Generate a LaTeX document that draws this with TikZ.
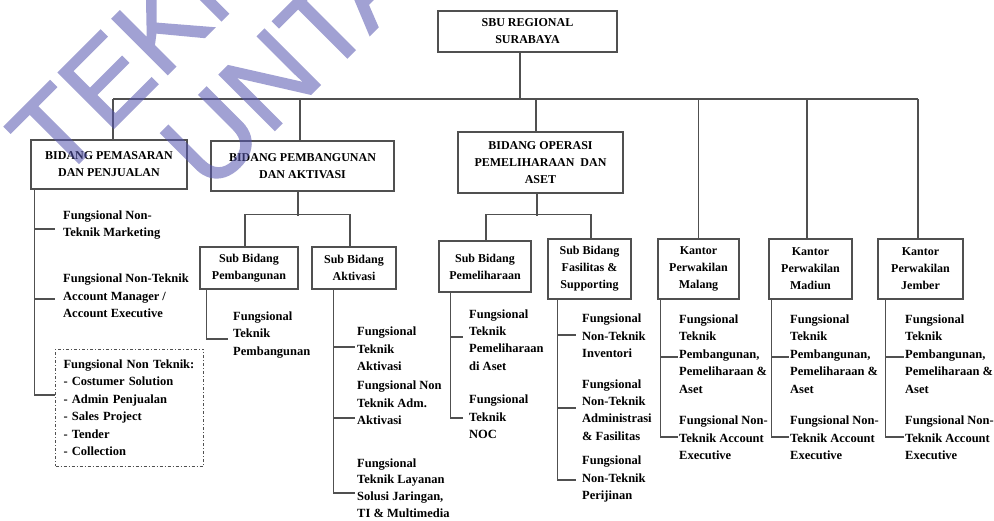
\documentclass[tikz,border=0pt]{standalone}
\usepackage{fontspec}
\usepackage{graphicx}
\setmainfont{Liberation Serif}
\newfontfamily\wmfont[FakeBold=1.5]{Liberation Sans}
\usetikzlibrary{calc}
\definecolor{ln}{RGB}{80,80,80}
\definecolor{wmc}{RGB}{85,85,175}
\tikzset{
  box/.style={draw=ln, line width=1.2pt, align=center, inner sep=0pt, text=black,
    font=\bfseries\fontsize{12}{17}\selectfont},
  leaf/.style={anchor=west, align=left, inner ysep=0pt, text=black,
    font=\bfseries\fontsize{12.5}{17.4}\selectfont},
  conn/.style={draw=ln, line width=1.2pt},
  dashbox/.style={draw=ln, line width=1pt, dash pattern=on 3pt off 2pt on 1pt off 2pt,
    align=left, inner xsep=8pt, inner ysep=0pt, text width=132pt,
    minimum height=117pt, font=\bfseries\fontsize{12.5}{17.5}\selectfont},
  wm/.style={font=\wmfont\fontsize{114}{114}\selectfont, text=wmc,
    inner sep=0pt, anchor=base west, rotate=45}
}
\begin{document}
\begin{tikzpicture}[x=1pt,y=-1pt]
\useasboundingbox (0,0) rectangle (994,520);
\fill[white] (0,0) rectangle (994,520);

% ---------- level 0 and 1 boxes ----------
\node[box, minimum width=179pt, minimum height=41pt] (top) at (527.5,31.5) {SBU REGIONAL\\SURABAYA};
\node[box, minimum width=156pt, minimum height=49pt] (b1) at (109,164.5) {BIDANG PEMASARAN\\DAN PENJUALAN};
\node[box, minimum width=183pt, minimum height=50pt] (b2) at (302.5,166) {BIDANG PEMBANGUNAN\\DAN AKTIVASI};
\node[box, minimum width=165pt, minimum height=61pt] (b3) at (540.5,162.5) {BIDANG OPERASI\\PEMELIHARAAN~~DAN\\ASET};
\node[box, minimum width=81pt, minimum height=60pt] (k1) at (698.5,269) {Kantor\\Perwakilan\\Malang};
\node[box, minimum width=83pt, minimum height=60pt] (k2) at (810.5,269) {Kantor\\Perwakilan\\Madiun};
\node[box, minimum width=85pt, minimum height=60pt] (k3) at (920.5,269) {Kantor\\Perwakilan\\Jember};

% ---------- sub boxes ----------
\node[box, minimum width=98pt, minimum height=42pt] (s1) at (249,268) {Sub Bidang\\Pembangunan};
\node[box, minimum width=84pt, minimum height=42pt] (s2) at (354,268) {Sub Bidang\\Aktivasi};
\node[box, minimum width=92pt, minimum height=51pt] (s3) at (485,266.5) {Sub Bidang\\Pemeliharaan};
\node[box, minimum width=83pt, minimum height=60pt] (s4) at (589.5,269) {Sub Bidang\\Fasilitas \&\\Supporting};

% ---------- main bus ----------
\coordinate (busL) at (113,99);
\coordinate (busR) at (918,99);
\draw[conn] ([xshift=-7.5pt]top.south) -- ([xshift=-7.5pt]top.south |- busL);
\draw[conn] (busL) -- (busR);
\draw[conn] (busL) -- (busL |- b1.north);
\draw[conn] ([xshift=-2.5pt]b2.north) -- ([xshift=-2.5pt]b2.north |- busL);
\draw[conn] ([xshift=-4.5pt]b3.north) -- ([xshift=-4.5pt]b3.north |- busL);
\draw[conn] (k1.north) -- (k1.north |- busL);
\draw[conn] ([xshift=-3.5pt]k2.north) -- ([xshift=-3.5pt]k2.north |- busL);
\draw[conn] (busR) -- (busR |- k3.north);

% ---------- sub junctions ----------
\draw[conn] ([xshift=-4.5pt]b2.south) -- ++(0,24);
\draw[conn] ([xshift=-4pt]s1.north) -- ++(0,-32) -| ([xshift=-4pt]s2.north);
\draw[conn] ([xshift=-3.5pt]b3.south) -- ++(0,22);
\draw[conn] ([xshift=1pt]s3.north) -- ++(0,-26) -| ([xshift=1.5pt]s4.north);

% ---------- leaves: marketing ----------
\node[leaf, inner xsep=8pt] (m1) at (55,225) {Fungsional Non-\\Teknik Marketing};
\node[leaf, inner xsep=8pt] (m2) at (55,296) {Fungsional Non-Teknik\\Account Manager /\\Account Executive};
\node[dashbox, anchor=west] (d1) at (55,407.5) {Fungsional Non Teknik:\\- Costumer Solution\\- Admin Penjualan\\- Sales Project\\- Tender\\- Collection};
\draw[conn] ([xshift=4pt]b1.south west) |- ([yshift=-4pt]m1.west);
\draw[conn] ([xshift=4pt]b1.south west) |- ([yshift=-3pt]m2.west);
\draw[conn] ([xshift=4pt]b1.south west) |- ([yshift=12.5pt]d1.west);

% ---------- leaves: pembangunan ----------
\node[leaf, inner xsep=5pt] (e1) at (228,335) {Fungsional\\Teknik\\Pembangunan};
\draw[conn] ([xshift=7pt]s1.south west) |- ([yshift=-4pt]e1.west);

% ---------- leaves: aktivasi ----------
\node[leaf, inner xsep=2pt] (a1) at (355,349) {Fungsional\\Teknik\\Aktivasi};
\node[leaf, inner xsep=2pt] (a2) at (355,403) {Fungsional Non\\Teknik Adm.\\Aktivasi};
\node[leaf, inner xsep=2pt, font=\bfseries\fontsize{12.5}{16.8}\selectfont] (a3) at (355,488) {Fungsional\\Teknik Layanan\\Solusi Jaringan,\\TI \& Multimedia};
\draw[conn] ([xshift=22pt]s2.south west) |- ([yshift=2pt]a1.west);
\draw[conn] ([xshift=22pt]s2.south west) |- ([yshift=-15pt]a2.west);
\draw[conn] ([xshift=22pt]s2.south west) |- ([yshift=-5pt]a3.west);

% ---------- leaves: pemeliharaan ----------
\node[leaf, inner xsep=6pt] (p1) at (463,340) {Fungsional\\Teknik\\Pemeliharaan\\di Aset};
\node[leaf, inner xsep=6pt] (p2) at (463,417) {Fungsional\\Teknik\\NOC};
\draw[conn] ([xshift=12pt]s3.south west) |- ([yshift=3pt]p1.west);
\draw[conn] ([xshift=12pt]s3.south west) |- ([yshift=-1pt]p2.west);

% ---------- leaves: fasilitas ----------
\node[leaf, inner xsep=6pt] (f1) at (576,336) {Fungsional\\Non-Teknik\\Inventori};
\node[leaf, inner xsep=6pt] (f2) at (576,410) {Fungsional\\Non-Teknik\\Administrasi\\\& Fasilitas};
\node[leaf, inner xsep=6pt] (f3) at (576,479) {Fungsional\\Non-Teknik\\Perijinan};
\draw[conn] ([xshift=10pt]s4.south west) |- ([yshift=1pt]f1.west);
\draw[conn] ([xshift=10pt]s4.south west) |- ([yshift=2pt]f2.west);
\draw[conn] ([xshift=10pt]s4.south west) |- ([yshift=-1pt]f3.west);

% ---------- leaves: kantor ----------
\node[leaf, inner xsep=1pt] (ka1) at (678,354) {Fungsional\\Teknik\\Pembangunan,\\Pemeliharaan \&\\Aset};
\node[leaf, inner xsep=1pt] (ka2) at (678,438) {Fungsional Non-\\Teknik Account\\Executive};
\draw[conn] ([xshift=3pt]k1.south west) |- ([yshift=-3pt]ka1.west);
\draw[conn] ([xshift=3pt]k1.south west) |- ([yshift=1pt]ka2.west);

\node[leaf, inner xsep=1pt] (kb1) at (789,354) {Fungsional\\Teknik\\Pembangunan,\\Pemeliharaan \&\\Aset};
\node[leaf, inner xsep=1pt] (kb2) at (789,438) {Fungsional Non-\\Teknik Account\\Executive};
\draw[conn] ([xshift=3pt]k2.south west) |- ([yshift=-3pt]kb1.west);
\draw[conn] ([xshift=3pt]k2.south west) |- ([yshift=1pt]kb2.west);

\node[leaf, inner xsep=1pt] (kc1) at (904,354) {Fungsional\\Teknik\\Pembangunan,\\Pemeliharaan \&\\Aset};
\node[leaf, inner xsep=1pt] (kc2) at (904,438) {Fungsional Non-\\Teknik Account\\Executive};
\draw[conn] ([xshift=8pt]k3.south west) |- ([yshift=-3pt]kc1.west);
\draw[conn] ([xshift=8pt]k3.south west) |- ([yshift=1pt]kc2.west);

% ---------- watermark ----------
\begin{scope}[transparency group, opacity=0.55]
\clip (0,0) rectangle (994,520);
\node[wm] (wm1) at (58,184) {TEKNIK};
\node[wm] (wm2) at (210,195) {UNTAG};
\end{scope}
\end{tikzpicture}
\end{document}
